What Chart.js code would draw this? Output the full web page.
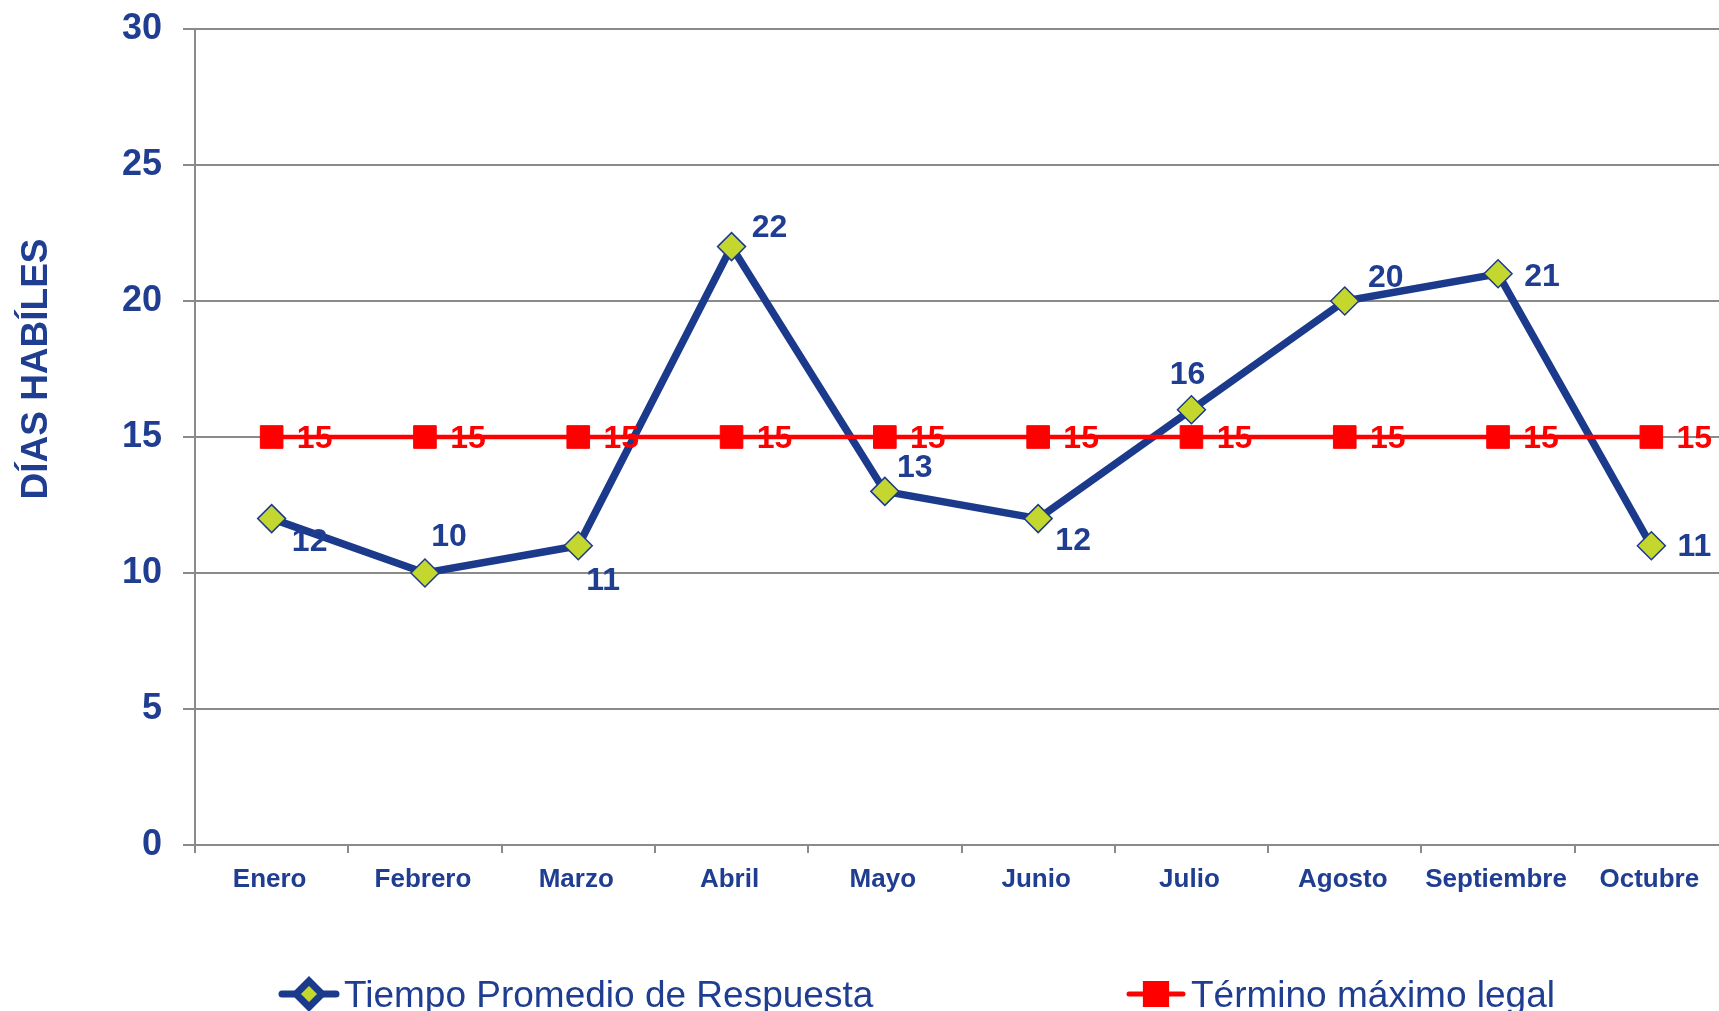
<!DOCTYPE html>
<html>
<head>
<meta charset="utf-8">
<script src="https://cdn.jsdelivr.net/npm/chart.js@4.4.0/dist/chart.umd.min.js"></script>
<style>
  html, body { margin: 0; padding: 0; background: #fff; overflow: hidden; }
  canvas { display: block; }
</style>
</head>
<body>
<canvas id="tiemposChart" width="1728" height="1011"></canvas>
<script>
const months = ['Enero', 'Febrero', 'Marzo', 'Abril', 'Mayo', 'Junio', 'Julio', 'Agosto', 'Septiembre', 'Octubre'];
const tiempoPromedio = [12, 10, 11, 22, 13, 12, 16, 20, 21, 11];
const terminoLegal = [15, 15, 15, 15, 15, 15, 15, 15, 15, 15];
const yTickValues = [0, 5, 10, 15, 20, 25, 30];

const FONT = '"Liberation Sans", Arial, sans-serif';
const BLUE = '#1c3a8c';
const TEXT_BLUE = '#1f3d91';
const GREEN = '#c4d72e';
const RED = '#ff0000';
const GRID = '#8a8a8a';

// where each value label sits relative to its point (moved by hand in the original)
const blueLabelOffsets = [[38, 24], [24, -36], [25, 35], [38, -18], [30, -23], [35, 23], [-4, -35], [41, -23], [44, 3], [43, 1]];
const redLabelOffsets = terminoLegal.map(() => [43, 2]);

const valueLabels = {
    id: 'valueLabels',
    afterDatasetsDraw(chart) {
        const ctx = chart.ctx;
        ctx.save();
        ctx.font = 'bold 32px ' + FONT;
        ctx.textAlign = 'center';
        ctx.textBaseline = 'middle';
        chart.data.datasets.forEach((ds, i) => {
            const meta = chart.getDatasetMeta(i);
            ctx.fillStyle = ds.labelColor;
            meta.data.forEach((pt, j) => {
                const off = ds.labelOffsets[j];
                ctx.fillText(String(ds.data[j]), pt.x + off[0], pt.y + off[1]);
            });
        });
        ctx.restore();
    }
};

const yTitle = {
    id: 'yTitle',
    afterDraw(chart) {
        const ctx = chart.ctx;
        ctx.save();
        ctx.translate(37, 369);
        ctx.rotate(-Math.PI / 2);
        ctx.font = 'bold 37px ' + FONT;
        ctx.fillStyle = TEXT_BLUE;
        ctx.textAlign = 'center';
        ctx.textBaseline = 'middle';
        ctx.fillText('DÍAS HABÍLES', 0, 0);
        ctx.restore();
    }
};

// Excel-style legend: short line with the marker on it, then the text
const legendRow = {
    id: 'legendRow',
    afterDraw(chart) {
        const ctx = chart.ctx;
        const y = 994;
        const items = [
            { x: 309, ds: chart.data.datasets[0], lineW: 7, half: 27 },
            { x: 1156, ds: chart.data.datasets[1], lineW: 5, half: 27 }
        ];
        ctx.save();
        items.forEach(it => {
            ctx.lineCap = 'round';
            ctx.strokeStyle = it.ds.borderColor;
            ctx.lineWidth = it.lineW;
            ctx.beginPath();
            ctx.moveTo(it.x - it.half, y);
            ctx.lineTo(it.x + it.half, y);
            ctx.stroke();
            ctx.fillStyle = it.ds.pointBackgroundColor;
            ctx.strokeStyle = it.ds.pointBorderColor;
            Chart.helpers.drawPoint(ctx, {
                pointStyle: it.ds.pointStyle,
                radius: it.ds.pointRadius - 1,
                borderWidth: it.ds.pointBorderWidth,
                rotation: 0
            }, it.x, y);
            ctx.fillStyle = TEXT_BLUE;
            ctx.font = '37px ' + FONT;
            ctx.textAlign = 'left';
            ctx.textBaseline = 'alphabetic';
            ctx.fillText(it.ds.label, it.x + 35, 1007);
        });
        ctx.restore();
    }
};

// keep the plot box where the original has it, whatever the label sizes
function noAutoPadding(s) {
    s.paddingTop = 0;
    s.paddingBottom = 0;
    s.paddingLeft = 0;
    s.paddingRight = 0;
}

const ctx = document.getElementById('tiemposChart').getContext('2d');
const chart = new Chart(ctx, {
    type: 'line',
    data: {
        labels: months,
        datasets: [{
            label: 'Tiempo Promedio de Respuesta',
            data: tiempoPromedio,
            borderColor: BLUE,
            borderWidth: 7.5,
            pointStyle: 'rectRot',
            pointRadius: 14,
            pointBackgroundColor: GREEN,
            pointBorderColor: BLUE,
            pointBorderWidth: 1.5,
            order: 1,
            labelOffsets: blueLabelOffsets,
            labelColor: TEXT_BLUE
        }, {
            label: 'Término máximo legal',
            data: terminoLegal,
            borderColor: RED,
            borderWidth: 4.5,
            pointStyle: 'rect',
            pointRadius: 16,
            pointBackgroundColor: RED,
            pointBorderColor: RED,
            pointBorderWidth: 1,
            order: 0,
            labelOffsets: redLabelOffsets,
            labelColor: RED
        }]
    },
    options: {
        responsive: false,
        animation: false,
        layout: { autoPadding: false, padding: { left: 0, right: 0, top: 29, bottom: 0 } },
        plugins: {
            legend: { display: false },
            tooltip: { enabled: false }
        },
        scales: {
            x: {
                offset: true,
                grid: { offset: true, drawOnChartArea: false, tickLength: 8, color: GRID, lineWidth: 2 },
                border: { color: GRID, width: 2 },
                ticks: {
                    color: TEXT_BLUE,
                    font: { family: FONT, size: 26, weight: 'bold' },
                    padding: 11,
                    labelOffset: -2,
                    maxRotation: 0,
                    autoSkip: false
                },
                afterFit: s => { s.height = 166; noAutoPadding(s); }
            },
            y: {
                min: 0,
                max: 30,
                afterBuildTicks: s => { s.ticks = yTickValues.map(v => ({ value: v })); },
                grid: { color: GRID, lineWidth: 2, tickLength: 12 },
                border: { color: GRID, width: 2 },
                ticks: {
                    color: TEXT_BLUE,
                    font: { family: FONT, size: 36, weight: 'bold' },
                    padding: 21
                },
                afterFit: s => { s.width = 195; noAutoPadding(s); }
            }
        }
    },
    plugins: [valueLabels, yTitle, legendRow]
});
</script>
</body>
</html>
